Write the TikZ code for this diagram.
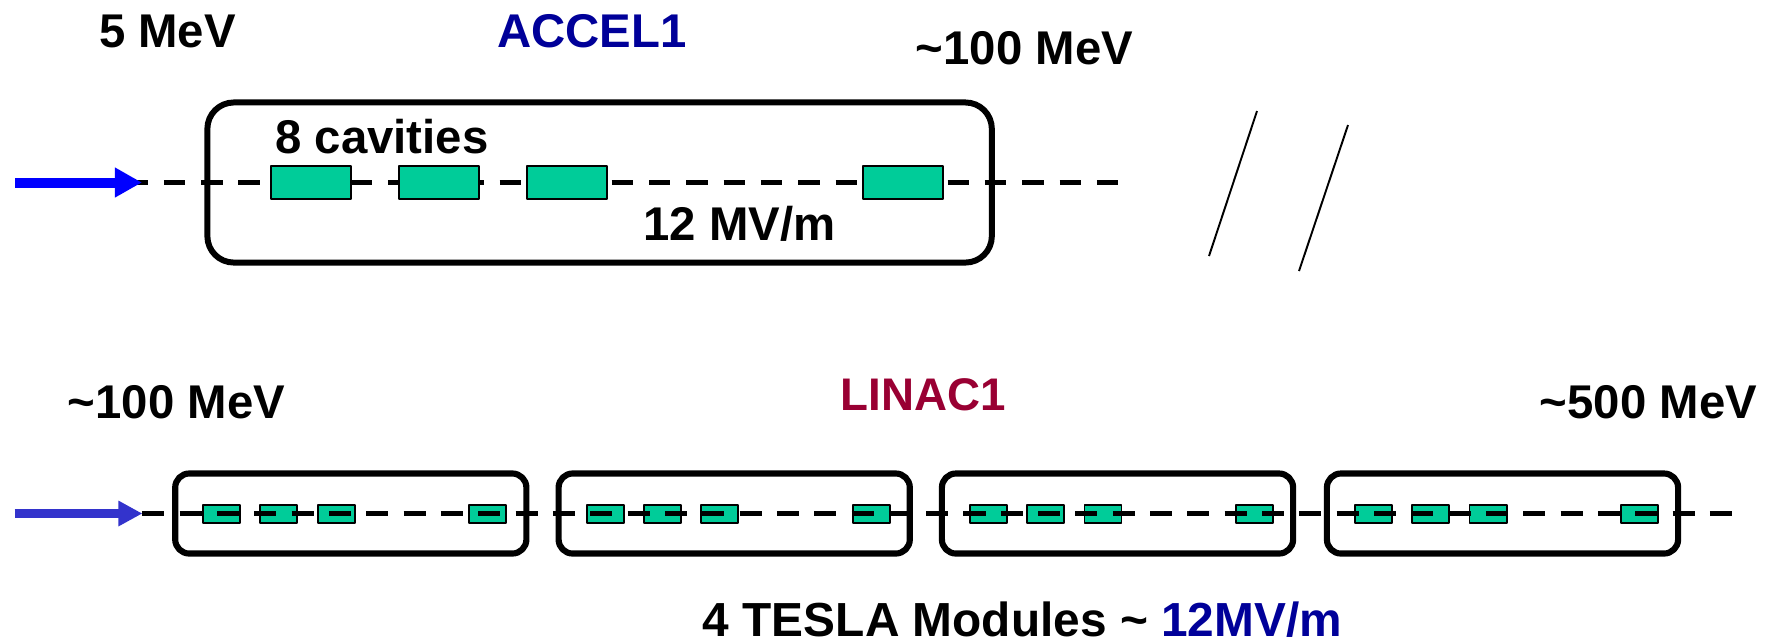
\documentclass[tikz,border=0pt]{standalone}
\usepackage{fontspec}
\setmainfont{Liberation Sans}
\usetikzlibrary{arrows.meta}

\definecolor{cavgreen}{HTML}{00CC99}
\definecolor{acceblue}{HTML}{000099}
\definecolor{linacred}{HTML}{990033}
\definecolor{beamblue}{HTML}{0000FF}
\definecolor{beamdark}{HTML}{3333CC}

\begin{document}
\begin{tikzpicture}[x = 0.01cm, y = -0.01cm, % one unit is one pixel of the reference
                    line join = round
                ]

            \tikzstyle{every node}=[inner sep = 0pt, outer sep = 0pt]
            \tikzstyle{lab}=[anchor = base, font = \fontsize{13.46}{16}\selectfont\bfseries]
            \tikzstyle{cav}=[draw = black, fill = cavgreen, line width = 0.55pt]
            \tikzstyle{bigcav}=[cav, minimum width = 0.805cm, minimum height = 0.33cm]
            \tikzstyle{smallcav}=[cav, minimum width = 0.37cm, minimum height = 0.18cm]
            \tikzstyle{bigbox}=[draw = black, line width = 1.7pt, rounded corners = 7.5pt,
            minimum width = 7.84cm, minimum height = 1.6cm]
            \tikzstyle{modbox}=[draw = black, line width = 1.75pt, rounded corners = 4pt,
            minimum width = 3.51cm, minimum height = 0.8cm]
            \tikzstyle{beamline}=[draw = black, line width = 1.55pt]

            \path[fill = white, use as bounding box] (0,0) rectangle (1773,641);

            % upper line
            \coordinate (beamstart) at (126.5,182.5);
            \coordinate (beamend) at (1119,182.5);
            \coordinate (arrowtail) at (15,182.5);
            \coordinate (arrowtip) at (142,182.5);

            \node (accel) [bigbox] at (599.6,182.5) {};
            \draw[beamline, dash pattern = on 0.214cm off 0.159cm] (beamstart) -- (beamend);
            \draw[beamblue, line width = 2.85pt, -{Triangle[length = 7.7pt, width = 8pt]}]
            (arrowtail) -- (arrowtip);

            \foreach \name/\xpos in {a/311, b/439, c/567, d/903}
                \node (cav\name) [bigcav] at (\xpos,182.5) {};

            \node (lowE) [lab] at (167.5,47) {5 MeV};
            \node (accelname) [lab, text = acceblue] at (592,47) {ACCEL1};
            \node (highE) [lab] at (1024.5,64) {\textasciitilde100 MeV};
            \node (ncav) [lab] at (382,153) {8 cavities};
            \node (grad) [lab] at (739.5,240) {12 MV/m};

            % break marks
            \coordinate (breakaa) at (1257,111);
            \coordinate (breakab) at (1209,256);
            \coordinate (breakba) at (1348,125);
            \coordinate (breakbb) at (1299,271);
            \draw[line width = 0.55pt] (breakaa) -- (breakab);
            \draw[line width = 0.55pt] (breakba) -- (breakbb);

            % lower line
            \coordinate (linestart) at (142.4,513.5);
            \coordinate (lineend) at (1732,513.5);
            \coordinate (arrowtailb) at (14.5,513.5);
            \coordinate (arrowtipb) at (142.4,513.5);

            \foreach \num/\xleft in {1/175.3, 2/558.7, 3/942, 4/1327} {
                \node (mod\num) [modbox] at (\xleft+175.5,513.5) {};
                \foreach \sub/\off in {a/46.5, b/103.5, c/161, d/312.5}
                    \node (cav\num\sub) [smallcav] at (\xleft+\off,514.3) {};
            }

            \draw[beamline, dash pattern = on 0.22cm off 0.153cm] (linestart) -- (lineend);
            \draw[beamdark, line width = 2.4pt, -{Triangle[length = 6.8pt, width = 6.8pt]}]
            (arrowtailb) -- (arrowtipb);

            \node (lowEb) [lab] at (176.5,418) {\textasciitilde100 MeV};
            \node (linacname) [lab, text = linacred, font = \fontsize{13}{16}\selectfont\bfseries] at (923,410) {LINAC1};
            \node (highEb) [lab] at (1648.5,418) {\textasciitilde500 MeV};
            \node (modules) [lab, font = \fontsize{13.6}{16}\selectfont\bfseries] at (1022.5,636.5) {4 TESLA Modules \textasciitilde{} \textcolor{acceblue}{12MV/m}};
        \end{tikzpicture}
\end{document}
